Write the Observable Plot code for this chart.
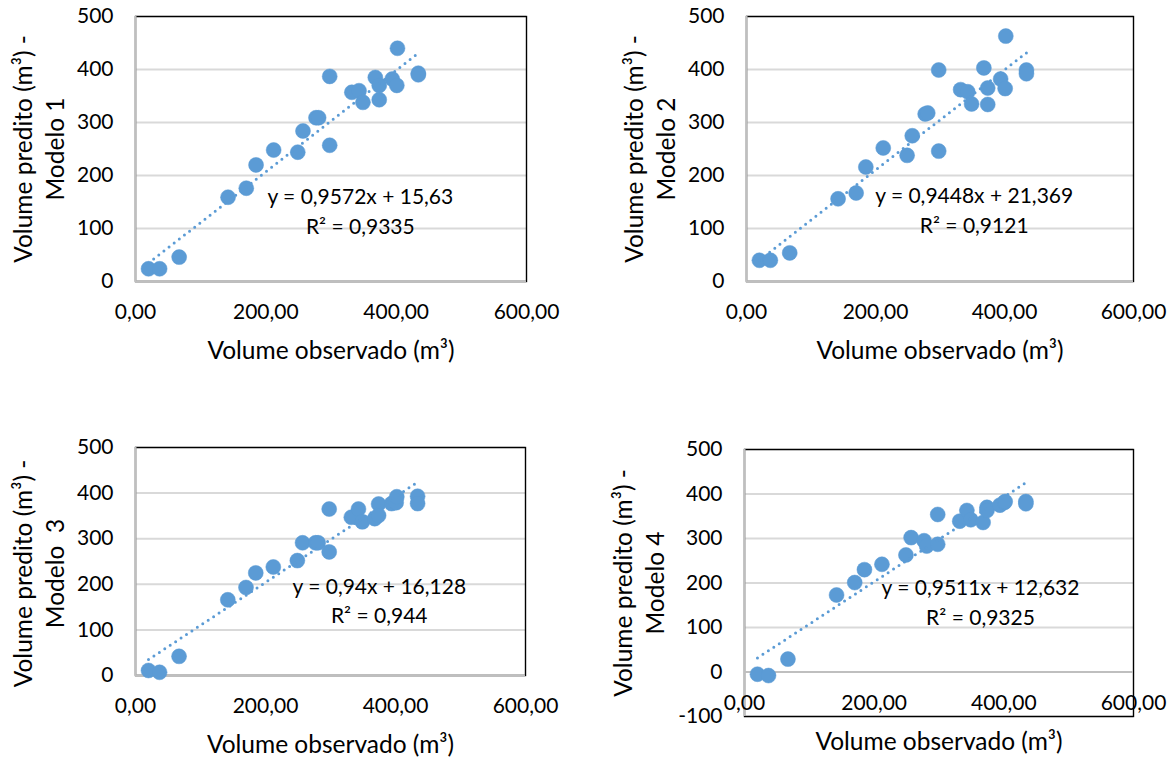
<!DOCTYPE html>
<html>
<head>
<meta charset="utf-8">
<script src="https://cdn.jsdelivr.net/npm/d3@7"></script>
<script src="https://cdn.jsdelivr.net/npm/@observablehq/plot@0.6"></script>
<style>
  html, body { margin: 0; padding: 0; background: #fff; }
  #wrap { position: relative; width: 1174px; height: 760px; overflow: hidden; font-family: Lato, "Open Sans", sans-serif; }
  #wrap svg { position: absolute; overflow: visible; }
</style>
</head>
<body>
<div id="wrap"></div>
<script>
// ---- data ----
const xObs = [20, 37, 67, 142, 170, 185, 212, 249, 257, 277, 281, 298, 298, 332, 343, 349, 368, 374, 374, 394, 401, 402, 434, 434];
const predModelo1 = [24, 24, 46, 159, 176, 220, 248, 244, 284, 309, 309, 387, 257, 357, 360, 338, 385, 370, 343, 382, 370, 440, 393, 390];
const predModelo2 = [40, 40, 54, 156, 167, 216, 252, 238, 275, 316, 318, 399, 246, 362, 358, 335, 403, 365, 334, 382, 364, 463, 399, 392];
const predModelo3 = [11, 7, 42, 166, 193, 225, 238, 252, 291, 291, 291, 365, 271, 347, 365, 337, 344, 376, 351, 377, 379, 392, 393, 377];
const predModelo4 = [-5, -8, 29, 173, 201, 230, 242, 263, 302, 295, 283, 354, 287, 339, 363, 342, 336, 370, 363, 375, 381, 383, 383, 378];
const slopes = [0.9572, 0.9448, 0.94, 0.9511];
const intercepts = [15.63, 21.369, 16.128, 12.632];
const equationLabels = ["y = 0,9572x + 15,63", "y = 0,9448x + 21,369", "y = 0,94x + 16,128", "y = 0,9511x + 12,632"];
const r2Labels = ["R² = 0,9335", "R² = 0,9121", "R² = 0,944", "R² = 0,9325"];
const yTitles = ["Volume predito (m³) -\nModelo 1", "Volume predito (m³) -\nModelo 2", "Volume predito (m³) -\nModelo  3", "Volume predito (m³) -\nModelo 4"];
const xTitle = "Volume observado (m³)";
const xTickValues = [0, 200, 400, 600];
const xTickLabels = ["0,00", "200,00", "400,00", "600,00"];
const yTicksStandard = [0, 100, 200, 300, 400, 500];
const yTicksModelo4 = [-100, 0, 100, 200, 300, 400, 500];

// ---- layout (positions / styles only) ----
const preds = [predModelo1, predModelo2, predModelo3, predModelo4];
const yTicksAll = [yTicksStandard, yTicksStandard, yTicksStandard, yTicksModelo4];
const layouts = [
  {left: 0,   top: 0,   w: 587, h: 380, ml: 135, mr: 61, mt: 16, mb: 99, eqX: 345, eqY: 136, ytDx: -98,  ytDy: 0},
  {left: 587, top: 0,   w: 587, h: 380, ml: 159, mr: 41, mt: 16, mb: 99, eqX: 353, eqY: 138, ytDx: -98,  ytDy: 0},
  {left: 0,   top: 380, w: 587, h: 380, ml: 135, mr: 62, mt: 67, mb: 85, eqX: 375, eqY: 168, ytDx: -98,  ytDy: 12},
  {left: 587, top: 380, w: 587, h: 380, ml: 157, mr: 41, mt: 69, mb: 44, eqX: 364, eqY: 161, ytDx: -107, ytDy: 0}
];
const blue = "#5b9bd5";
const tickSize = 21, titleSize = 24.5, eqSize = 21;

const wrap = document.getElementById("wrap");
layouts.forEach((L, i) => {
  const pts = xObs.map((x, j) => ({x, y: preds[i][j]}));
  const [x0, x1] = d3.extent(xObs);
  const trend = [x0, x1].map(x => ({x, y: slopes[i] * x + intercepts[i]}));
  const yt = yTicksAll[i];
  const svg = Plot.plot({
    width: L.w, height: L.h,
    marginLeft: L.ml, marginRight: L.mr, marginTop: L.mt, marginBottom: L.mb,
    style: {fontFamily: "Lato, 'Open Sans', sans-serif", fontSize: tickSize + "px", color: "#000", background: "transparent", overflow: "visible"},
    x: {domain: [0, 600]},
    y: {domain: d3.extent(yt)},
    marks: [
      Plot.gridY(yt, {stroke: "#d9d9d9", strokeOpacity: 1, strokeWidth: 2}),
      Plot.frame({stroke: "#000", strokeWidth: 1.4}),
      Plot.ruleX([0], {stroke: "#bfbfbf", strokeWidth: 2}),
      Plot.ruleY([0], {stroke: "#bfbfbf", strokeWidth: 2}),
      Plot.axisY(yt, {tickSize: 0, tickPadding: 22, fontSize: tickSize, fill: "#000", tickFormat: d => String(d), label: null}),
      Plot.axisX([], {label: null, tickSize: 0}),
      Plot.text(xTickValues, {x: d => d, y: 0, dy: 31, text: (d, k) => xTickLabels[k], fontSize: tickSize, fill: "#000"}),
      Plot.text([xTitle], {x: 300, y: 0, dy: 70, text: d => d, fontSize: titleSize, fill: "#000"}),
      Plot.text([yTitles[i]], {frameAnchor: "left", rotate: -90, dx: L.ytDx, dy: L.ytDy, text: d => d, fontSize: titleSize, lineHeight: 32 / titleSize, textAnchor: "middle", fill: "#000"}),
      Plot.dot(pts, {x: "x", y: "y", r: 7.5, fill: blue, stroke: blue, strokeWidth: 0.5}),
      Plot.line(trend, {x: "x", y: "y", stroke: blue, strokeWidth: 3, strokeDasharray: "0 6.5", strokeLinecap: "round"}),
      Plot.text([equationLabels[i] + "\n" + r2Labels[i]], {x: L.eqX, y: L.eqY, text: d => d, fontSize: eqSize, lineHeight: 30 / eqSize, textAnchor: "middle", fill: "#000"})
    ]
  });
  svg.style.left = L.left + "px";
  svg.style.top = L.top + "px";
  wrap.appendChild(svg);
});
</script>
</body>
</html>
